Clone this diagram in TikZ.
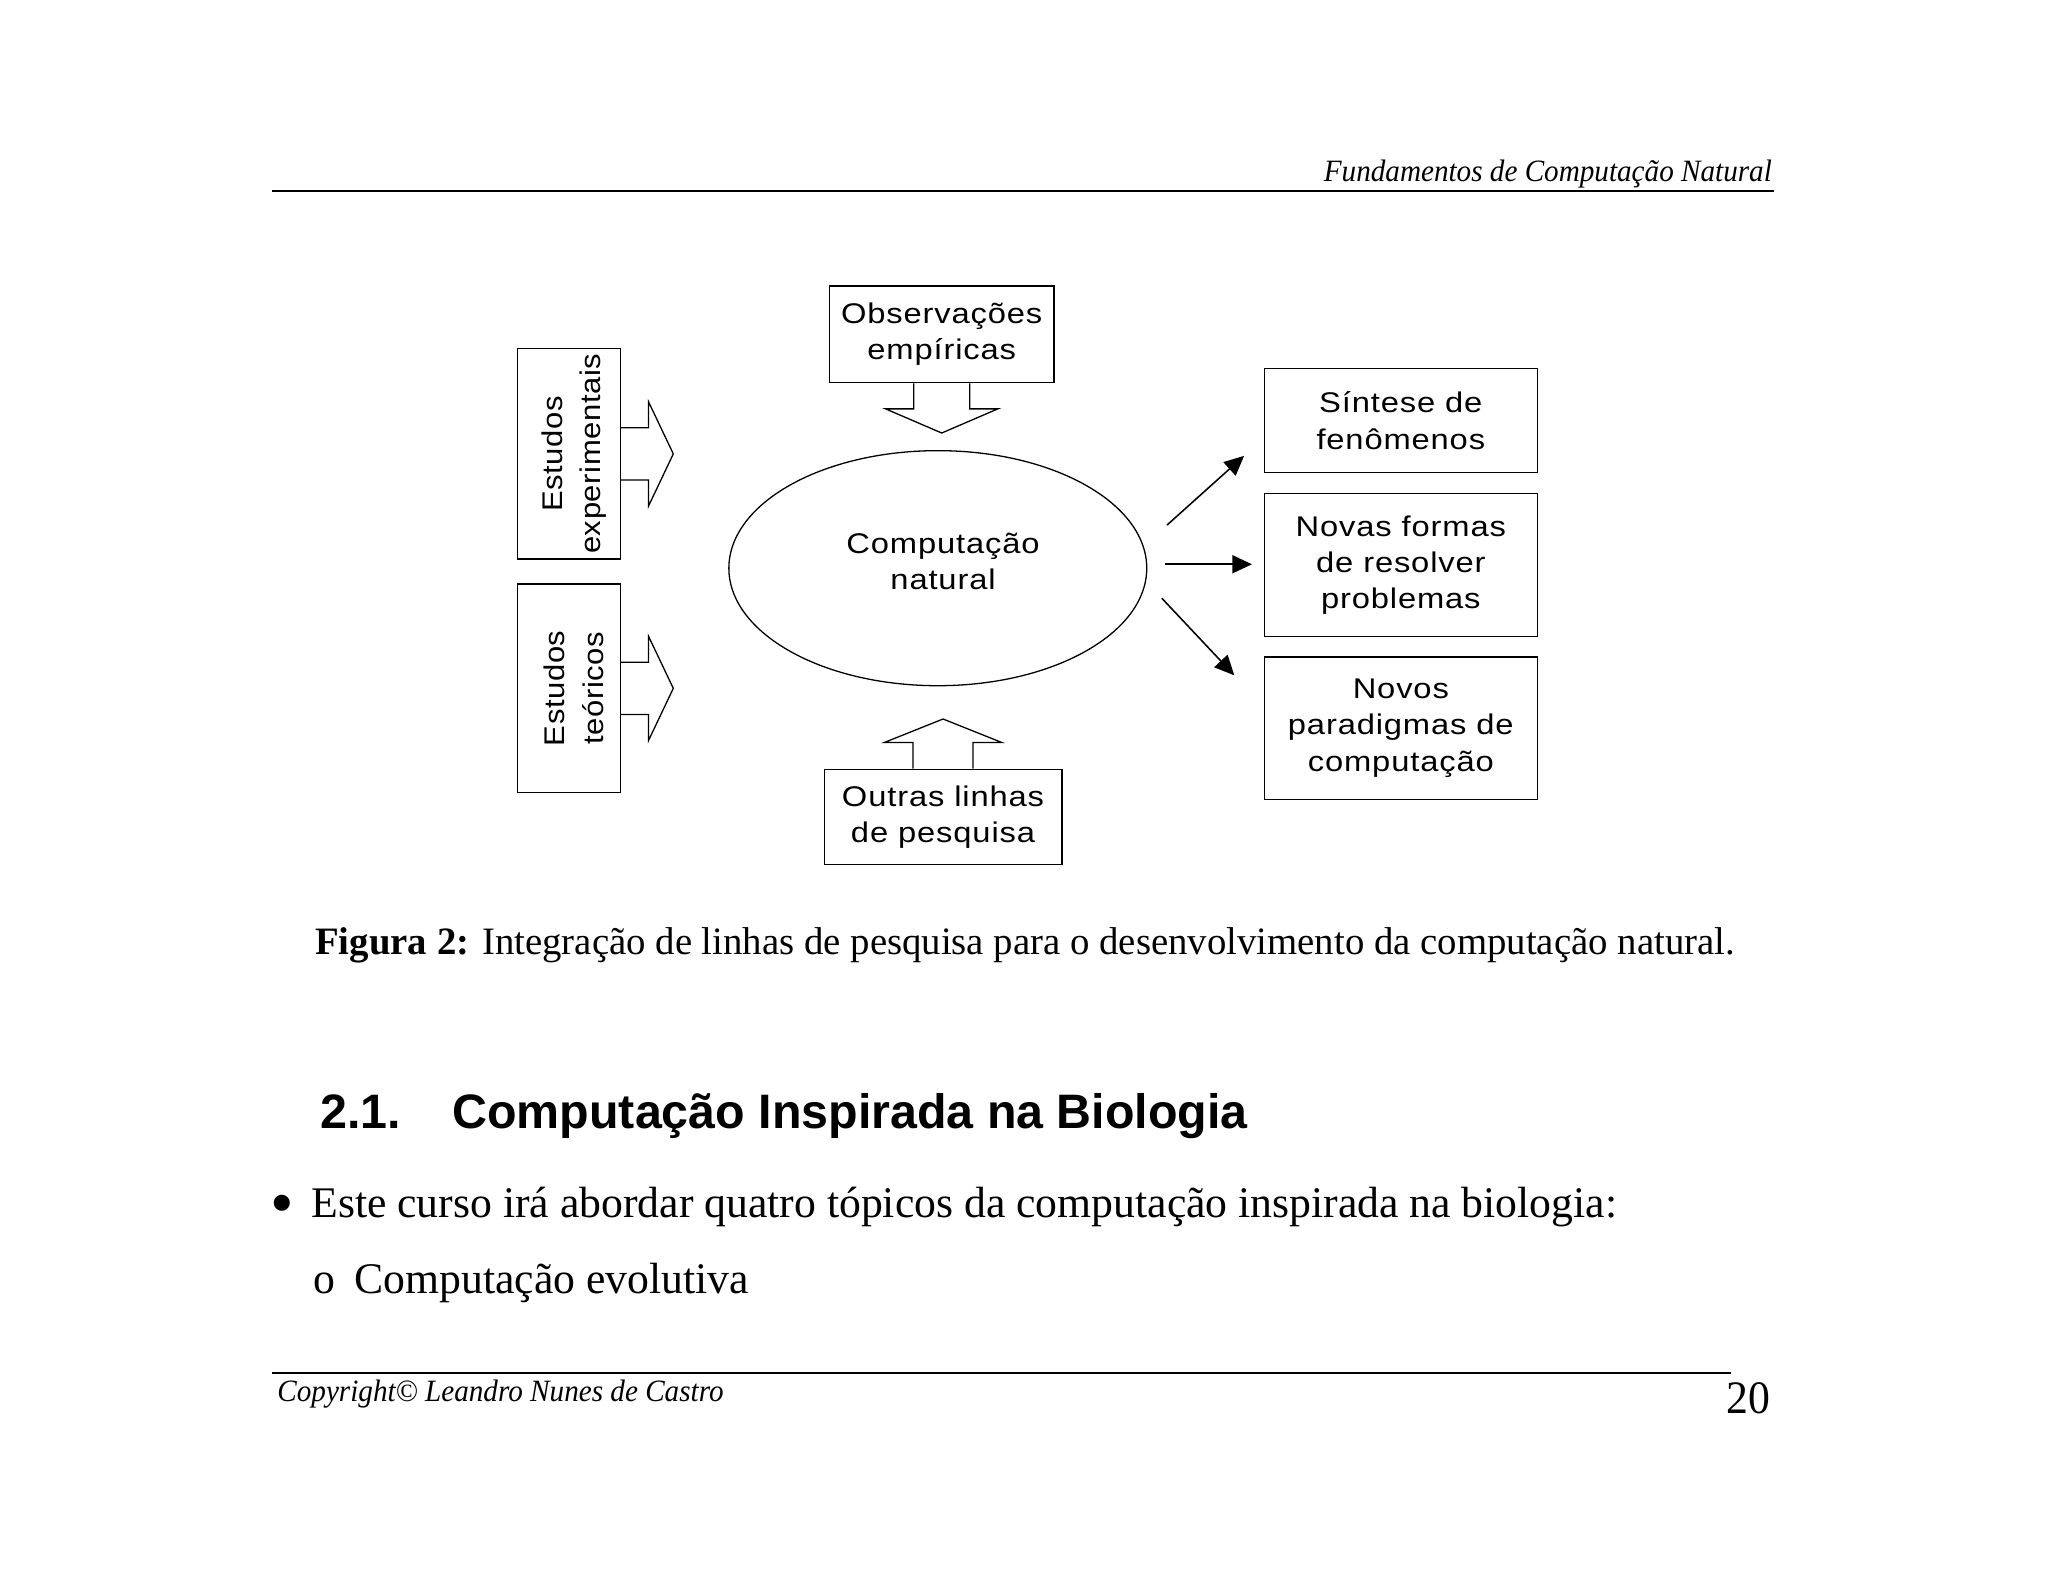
\documentclass[tikz,border=0pt]{standalone}
\usepackage{fontspec}
\setmainfont{Liberation Serif}
\setsansfont{Liberation Sans}
\newfontfamily\diagfont[FakeStretch=1.15,LetterSpace=3]{Liberation Sans}
\newfontfamily\diagnarrow[FakeStretch=1.09,LetterSpace=2]{Liberation Sans}
\newfontfamily\condfont[FakeStretch=0.94]{Liberation Serif}
\usetikzlibrary{arrows.meta,calc,shapes.geometric}
\begin{document}
\begin{tikzpicture}[x=0.5051pt,y=-0.5051pt,
  box/.style={draw,line width=0.5pt,inner sep=0pt,align=center,font=\diagfont\fontsize{11}{14}\selectfont},
  txt/.style={inner sep=0pt,align=center,font=\diagfont\fontsize{11}{14}\selectfont},
  rtxt/.style={inner sep=0pt,align=center,rotate=90,font=\diagnarrow\fontsize{11}{15}\selectfont},
  blk/.style={draw,line width=0.5pt,line join=miter},
  conn/.style={line width=0.6pt,-{Triangle[length=7.6pt,width=7pt]}},
  rule/.style={line width=0.8pt},
  body/.style={inner sep=0pt,anchor=base west,font=\fontsize{16.9}{20}\selectfont},
  smallit/.style={inner sep=0pt,font=\condfont\itshape\fontsize{12}{14}\selectfont},
]
\useasboundingbox (0,0) rectangle (1568,1211);
\fill[white] (0,0) rectangle (1568,1211);

% header
\node[smallit,anchor=base east] (hdr) at (1357,139) {Fundamentos de Computação Natural};
\coordinate (hl1) at (208,146);
\coordinate (hl2) at (1358,146);
\draw[rule] (hl1) -- (hl2);

% top box and down arrow
\node[box,minimum width=86.9pt,minimum height=37.4pt] (obs) at (721,256) {Observações\\empíricas};
\draw[blk] ($(obs.south)+(-21.5,0)$) -- ++(0,19.5) -- ++(-21.5,0) -- ($(obs.south)+(0,38)$)
  -- ($(obs.south)+(43,19.5)$) -- ++(-21.5,0) -- ($(obs.south)+(21.5,0)$);

% left boxes and right arrows
\node[box,minimum width=39.9pt,minimum height=81.3pt] (exp) at (435.5,347.5) {};
\node[rtxt] (expt) at ($(exp.center)+(4,0)$) {Estudos\\experimentais};
\draw[blk] ($(exp.east)+(0,-20)$) -- ++(21,0) -- ++(0,-20) -- ($(exp.east)+(40,0)$)
  -- ($(exp.east)+(21,40)$) -- ++(0,-20) -- ($(exp.east)+(0,20)$);

\node[box,minimum width=39.9pt,minimum height=80.8pt] (teo) at (435.5,527) {};
\node[rtxt] (teot) at ($(teo.center)+(4,0)$) {Estudos\\teóricos};
\draw[blk] ($(teo.east)+(0,-20)$) -- ++(21,0) -- ++(0,-20) -- ($(teo.east)+(40,0)$)
  -- ($(teo.east)+(21,40)$) -- ++(0,-20) -- ($(teo.east)+(0,20)$);

% bottom box and up arrow
\node[box,minimum width=91.9pt,minimum height=36.9pt] (out) at (722,625.5) {Outras linhas\\de pesquisa};
\draw[blk] ($(out.north)+(-23,0)$) -- ++(0,-20) -- ++(-22,0) -- ($(out.north)+(0,-38)$)
  -- ($(out.north)+(45,-20)$) -- ++(-22,0) -- ($(out.north)+(23,0)$);

% ellipse
\node[draw,ellipse,line width=0.5pt,minimum width=161.6pt,minimum height=90.9pt,inner sep=0pt] (ell) at (718,435) {};
\node[txt] (ellt) at (722,430) {Computação\\natural};

% right boxes
\node[box,minimum width=105.6pt,minimum height=40.4pt] (syn) at (1072.5,322) {Síntese de\\fenômenos};
\node[box,minimum width=105.6pt,minimum height=55.1pt] (nov) at (1072.5,432.5) {Novas formas\\de resolver\\problemas};
\node[box,minimum width=105.6pt,minimum height=55.1pt] (par) at (1072.5,557.5) {Novos\\paradigmas de\\computação};

\coordinate (a1) at (893.5,402); \coordinate (b1) at (952.5,349);
\coordinate (a2) at (892,432);   \coordinate (b2) at (958.5,432);
\coordinate (a3) at (889.5,458); \coordinate (b3) at (945,517);
\draw[conn] (a1) -- (b1);
\draw[conn] (a2) -- (b2);
\draw[conn] (a3) -- (b3);

% caption
\node[inner sep=0pt,anchor=base west,font=\fontsize{15}{17}\selectfont] (cap) at (241,731) {\textbf{Figura 2:} Integração de linhas de pesquisa para o desenvolvimento da computação natural.};

% section heading
\node[inner sep=0pt,anchor=base west,font=\sffamily\bfseries\fontsize{18.7}{22}\selectfont] (secn) at (245,864) {2.1.};
\node[inner sep=0pt,anchor=base west,font=\sffamily\bfseries\fontsize{18.7}{22}\selectfont] (sect) at (346,864) {Computação Inspirada na Biologia};

% bullets
\node[inner sep=0pt,font=\fontsize{26}{28}\selectfont] (bul) at (216,927) {•};
\node[body] (b1t) at (238,932) {Este curso irá abordar quatro tópicos da computação inspirada na biologia:};
\node[body] (sub) at (240,990) {o};
\node[body] (s1t) at (271,990) {Computação evolutiva};

% footer
\coordinate (fl1) at (208,1051);
\coordinate (fl2) at (1325,1051);
\draw[rule] (fl1) -- (fl2);
\node[smallit,anchor=base west] (copy) at (212,1073) {Copyright© Leandro Nunes de Castro};
\node[inner sep=0pt,anchor=base east,font=\condfont\fontsize{18}{20}\selectfont] (pg) at (1356,1082) {20};
\end{tikzpicture}
\end{document}
